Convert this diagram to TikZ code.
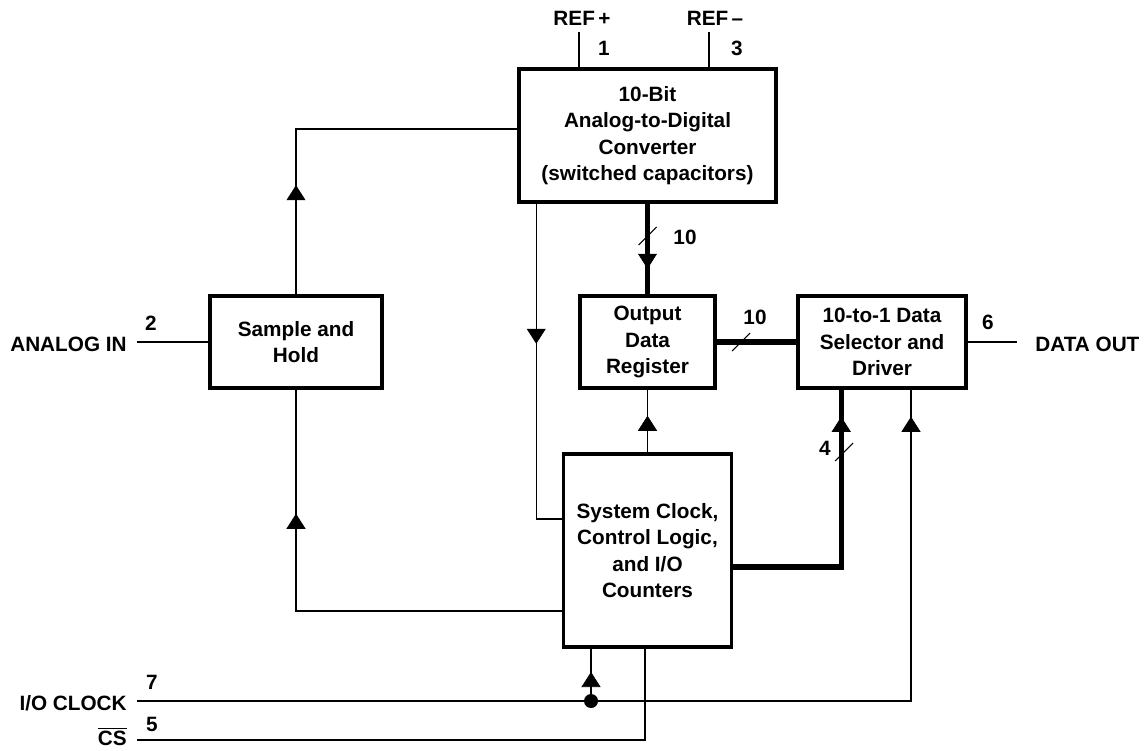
\documentclass[tikz,border=0pt]{standalone}
\usepackage{fontspec}
\setmainfont{Liberation Sans}
\usetikzlibrary{arrows.meta, decorations.markings}

\begin{document}
\begin{tikzpicture}[
			font=\fontsize{11.8pt}{15.1pt}\selectfont\bfseries,
			block/.style={draw, line width=2pt, align=center, inner sep=0pt},
			wire/.style={line width=0.8pt},
			bus/.style={line width=3pt},
			arrowat/.style={postaction={decorate}, decoration={markings,
				mark=at position #1 with {\arrow{Triangle[width=0.38cm, length=0.3cm, line width=0.4pt]}}}},
			lbl/.style={inner sep=0pt, anchor=base}]
			\useasboundingbox (0,0) rectangle (22.92,15);
			% blocks
			\node[block, minimum width=5.14cm, minimum height=2.66cm] (adc) at (12.95,12.29) {10-Bit\\Analog-to-Digital\\Converter\\(switched capacitors)};
			\node[block, minimum width=3.44cm, minimum height=1.84cm] (sh) at (5.92,8.16) {Sample and\\Hold};
			\node[block, minimum width=2.70cm, minimum height=1.84cm] (reg) at (12.95,8.16) {Output\\Data\\Register};
			\node[block, minimum width=3.36cm, minimum height=1.84cm] (sel) at (17.64,8.16) {10-to-1 Data\\Selector and\\Driver};
			\node[block, minimum width=3.36cm, minimum height=3.86cm] (sys) at (12.95,3.99) {System Clock,\\Control Logic,\\and I/O\\Counters};
			% pin ends
			\coordinate (refp) at (11.58,14.36);
			\coordinate (refm) at (14.18,14.36);
			\coordinate (ain) at (2.74,8.16);
			\coordinate (dout) at (20.34,8.16);
			\coordinate (clkin) at (2.74,0.98);
			\coordinate (csin) at (2.74,0.20);
			\coordinate (dot) at (11.82,0.98);
			% pin labels
			\node[lbl] (refplus) at (11.64,14.49) {REF\,+};
			\node[lbl] (refminus) at (14.30,14.49) {REF\,--};
			\node[lbl] (pin1) at (12.08,13.89) {1};
			\node[lbl] (pin3) at (14.74,13.89) {3};
			\node[lbl, anchor=base east] (analogin) at (2.54,7.97) {ANALOG IN};
			\node[lbl] (pin2) at (3.02,8.39) {2};
			\node[lbl, anchor=base west] (dataout) at (20.70,7.97) {DATA OUT};
			\node[lbl] (pin6) at (19.76,8.41) {6};
			\node[lbl, anchor=base east] (ioclk) at (2.54,0.79) {I/O CLOCK};
			\node[lbl] (pin7) at (3.04,1.21) {7};
			\node[lbl, anchor=base east] (cs) at (2.54,0.09) {$\overline{\mbox{CS}}$};
			\node[lbl] (pin5) at (3.04,0.37) {5};
			% wires
			\draw[wire] (refp) -- (refp |- adc.north);
			\draw[wire] (refm) -- (refm |- adc.north);
			\draw[wire] (ain) -- (sh.west);
			\draw[wire] (sel.east) -- (dout);
			\draw[wire, arrowat=2.18cm] (sh.north) |- ([yshift=0.13cm]adc.west);
			\draw[wire, arrowat=2.8cm] ([xshift=0.38cm]adc.south west) |- ([yshift=0.63cm]sys.west);
			\draw[wire, arrowat=-0.52cm] (sys.north) -- (reg.south);
			\draw[wire, arrowat=-2.48cm] ([yshift=-1.21cm]sys.west) -| (sh.south);
			\draw[wire, arrowat=-0.54cm] (clkin) -| ([xshift=0.58cm]sel.south);
			\draw[wire, arrowat=0.58cm] (dot) -- (dot |- sys.south);
			\fill (dot) circle (0.14cm);
			\draw[wire] (csin) -| ([xshift=-0.05cm]sys.south);
			% buses
			\draw[bus, arrowat=1.3cm] (adc.south) -- (reg.north);
			\draw[bus] (reg.east) -- (sel.west);
			\draw[bus, arrowat=-0.54cm] ([yshift=-0.33cm]sys.east) -| ([xshift=0.9cm]sel.south west);
			\coordinate (s1) at (12.95,10.28);
			\coordinate (s2) at (14.82,8.16);
			\coordinate (s3) at (16.88,5.96);
			\foreach \s in {s1,s2,s3}
				\draw[line width=0.6pt] ([shift={(-0.18,-0.18)}]\s) -- ([shift={(0.18,0.18)}]\s);
			\node[lbl] (w10a) at (13.70,10.11) {10};
			\node[lbl] (w10b) at (15.10,8.51) {10};
			\node[lbl] (w4) at (16.50,5.89) {4};
		\end{tikzpicture}
\end{document}
